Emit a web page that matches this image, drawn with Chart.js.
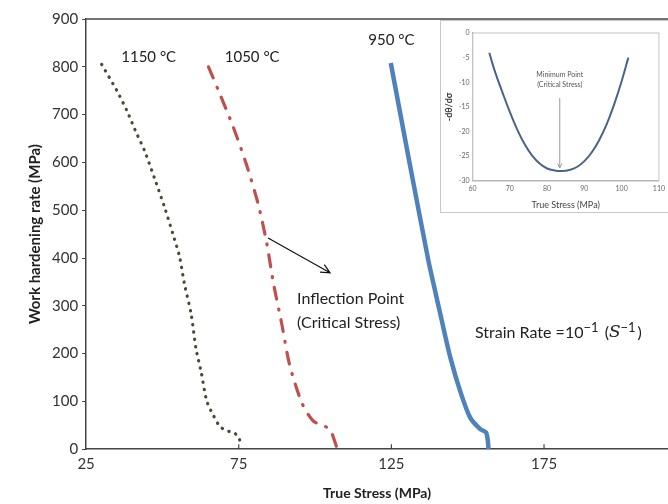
<!DOCTYPE html>
<html>
<head>
<meta charset="utf-8">
<script src="https://cdn.jsdelivr.net/npm/chart.js@4.4.1/dist/chart.umd.min.js"></script>
<style>
  html, body { margin: 0; padding: 0; background: #fff; }
  #wrap { position: relative; width: 668px; height: 504px; overflow: hidden; }
  #main { position: absolute; left: 0; top: 0; }
  #insetBox { position: absolute; left: 440px; top: 20px; width: 240px; height: 191px; border: 1px solid #c8c8c8; background: #fff; }
  #inset { position: absolute; left: 0; top: 0; }
</style>
</head>
<body>
<div id="wrap">
  <canvas id="main" width="668" height="504" style="width:668px;height:504px"></canvas>
  <div id="insetBox"><canvas id="inset" width="228" height="190" style="width:228px;height:190px"></canvas></div>
</div>
<script>
// work hardening curves
const stress1150 = [30.1, 35.0, 38.3, 41.1, 44.1, 47.4, 50.6, 53.4, 55.6, 57.2, 59.4, 61.0, 62.7, 64.5, 66.5, 68.9, 71.4, 73.4, 75.0, 75.8];
const rate1150   = [805, 751, 709, 667, 625, 567, 508, 451, 403, 346, 283, 210, 161, 101, 73, 47, 38, 35, 24, 8];

const stress1050 = [65.1, 68.3, 73.2, 77.6, 81.4, 84.2, 86.4, 89.1, 91.6, 95.6, 99.4, 104.7, 107.3];
const rate1050   = [800, 751, 674, 594, 512, 430, 346, 262, 178, 98, 59, 42, 0];

const stress950 = [124.8, 130.8, 137.1, 138.8, 141.5, 144.3, 147.5, 150.8, 154.1, 156.0, 156.6, 156.8];
const rate950   = [808, 604, 395, 346, 269, 192, 122, 66, 42, 35, 17, 0];

const xTicks = [25, 75, 125, 175];
const yTicks = [0, 100, 200, 300, 400, 500, 600, 700, 800, 900];

// inset: -dθ/dσ vs true stress
const insetStress = [64.5, 66, 68, 70, 72, 74, 76, 78, 80, 82, 84, 86, 88, 90, 92, 94, 96, 98, 100, 101.8];
const insetSlope  = [-4, -7.8, -12, -16, -19.6, -22.6, -24.9, -26.5, -27.5, -27.9, -28, -27.8, -27.2, -26, -24.2, -21.7, -18.5, -14.5, -9.8, -5];
const insetXTicks = [60, 70, 80, 90, 100, 110];
const insetYTicks = [0, -5, -10, -15, -20, -25, -30];

const pts = (xs, ys) => xs.map((x, i) => ({ x: x, y: ys[i] }));
const FONT = 'Lato, "Open Sans", sans-serif';

function arrow(ctx, x1, y1, x2, y2, head, color, width) {
  const a = Math.atan2(y2 - y1, x2 - x1);
  ctx.save();
  ctx.strokeStyle = color;
  ctx.lineWidth = width;
  ctx.beginPath();
  ctx.moveTo(x1, y1);
  ctx.lineTo(x2, y2);
  ctx.moveTo(x2 - head * Math.cos(a - 0.45), y2 - head * Math.sin(a - 0.45));
  ctx.lineTo(x2, y2);
  ctx.lineTo(x2 - head * Math.cos(a + 0.45), y2 - head * Math.sin(a + 0.45));
  ctx.stroke();
  ctx.restore();
}

const mainNotes = {
  id: 'mainNotes',
  afterDraw(chart) {
    const ctx = chart.ctx, xs = chart.scales.x, ys = chart.scales.y, ca = chart.chartArea;
    ctx.save();
    // top frame line
    ctx.strokeStyle = '#444';
    ctx.lineWidth = 1.5;
    ctx.beginPath();
    ctx.moveTo(ca.left, ca.top);
    ctx.lineTo(ca.right, ca.top);
    ctx.stroke();
    // inner tick marks on x axis
    ctx.lineWidth = 1.2;
    xTicks.slice(1).forEach(v => {
      const px = xs.getPixelForValue(v);
      ctx.beginPath();
      ctx.moveTo(px, ca.bottom);
      ctx.lineTo(px, ca.bottom - 5);
      ctx.stroke();
    });
    ctx.fillStyle = '#222';
    ctx.textBaseline = 'middle';
    ctx.font = '15px ' + FONT;
    ctx.textAlign = 'center';
    ctx.fillText('1150 °C', xs.getPixelForValue(45.5), ys.getPixelForValue(820));
    ctx.fillText('1050 °C', xs.getPixelForValue(79.4), ys.getPixelForValue(820));
    ctx.fillText('950 °C', xs.getPixelForValue(125), ys.getPixelForValue(855));
    ctx.textAlign = 'left';
    ctx.font = '16px ' + FONT;
    ctx.fillText('Inflection Point', xs.getPixelForValue(94.1), ys.getPixelForValue(315));
    ctx.fillText('(Critical Stress)', xs.getPixelForValue(94.1), ys.getPixelForValue(265));
    // strain rate with superscripts
    let px = xs.getPixelForValue(152.4);
    const py = ys.getPixelForValue(244);
    const parts = [
      ['Strain Rate =10', '16px ' + FONT, 0],
      ['\u22121', '13px ' + FONT, -5],
      [' (', '16px ' + FONT, 0],
      ['S', 'italic 17px "DejaVu Serif", serif', 0],
      ['\u22121', '13px ' + FONT, -5],
      [')', '16px ' + FONT, 0]
    ];
    parts.forEach(p => {
      ctx.font = p[1];
      ctx.fillText(p[0], px, py + p[2]);
      px += ctx.measureText(p[0]).width + (p[0] === '\u22121' ? 2 : 0);
    });
    arrow(ctx, xs.getPixelForValue(84.6), ys.getPixelForValue(442), xs.getPixelForValue(104.9), ys.getPixelForValue(369), 10, '#111', 1.2);
    ctx.restore();
  }
};

new Chart('main', {
  type: 'scatter',
  data: {
    datasets: [
      { data: pts(stress1150, rate1150), showLine: true, borderColor: '#4a4a36', borderWidth: 3.2,
        borderDash: [0.3, 7], borderCapStyle: 'round', pointRadius: 0, tension: 0.25 },
      { data: pts(stress1050, rate1050), showLine: true, borderColor: '#c0504d', borderWidth: 3.2,
        borderDash: [12, 10, 1, 10], borderCapStyle: 'round', pointRadius: 0, tension: 0.25 },
      { data: pts(stress950, rate950), showLine: true, borderColor: '#4f81bd', borderWidth: 4.5,
        pointRadius: 0, tension: 0.25 }
    ]
  },
  options: {
    responsive: false,
    animation: false,
    layout: { padding: { left: 26, top: 19, right: 0, bottom: 2 } },
    plugins: { legend: { display: false }, tooltip: { enabled: false } },
    scales: {
      x: {
        type: 'linear', min: 25, max: 215.6,
        afterBuildTicks: s => { s.ticks = xTicks.map(v => ({ value: v })); },
        grid: { display: false, drawTicks: false },
        border: { color: '#444', width: 1.5 },
        ticks: { font: { family: FONT, size: 15 }, color: '#333', padding: 6, maxRotation: 0 },
        title: { display: true, text: 'True Stress (MPa)', color: '#222',
                 font: { family: FONT, size: 14, weight: 'bold' }, padding: { top: 6, bottom: 0 } }
      },
      y: {
        min: 0, max: 900,
        afterBuildTicks: s => { s.ticks = yTicks.map(v => ({ value: v })); },
        grid: { drawOnChartArea: false, tickLength: 4, color: '#444' },
        border: { color: '#444', width: 1.5 },
        ticks: { font: { family: FONT, size: 15 }, color: '#333', padding: 4 },
        title: { display: true, text: 'Work hardening rate (MPa)', color: '#222',
                 font: { family: FONT, size: 15, weight: 'bold' }, padding: { top: 0, bottom: 4 } }
      }
    }
  },
  plugins: [mainNotes]
});

const insetNotes = {
  id: 'insetNotes',
  beforeDatasetsDraw(chart) {
    const ctx = chart.ctx, ca = chart.chartArea;
    ctx.save();
    ctx.strokeStyle = '#c4c4c4';
    ctx.lineWidth = 1;
    ctx.strokeRect(ca.left, ca.top, ca.right - ca.left, ca.bottom - ca.top);
    ctx.restore();
  },
  afterDraw(chart) {
    const ctx = chart.ctx, xs = chart.scales.x, ys = chart.scales.y;
    ctx.save();
    ctx.fillStyle = '#555';
    ctx.font = '7px ' + FONT;
    ctx.textAlign = 'center';
    ctx.textBaseline = 'middle';
    ctx.fillText('Minimum Point', xs.getPixelForValue(83.4), ys.getPixelForValue(-8.5));
    ctx.fillText('(Critical Stress)', xs.getPixelForValue(83.4), ys.getPixelForValue(-10.5));
    const ax = xs.getPixelForValue(83.4);
    arrow(ctx, ax, ys.getPixelForValue(-13.2), ax, ys.getPixelForValue(-27.4), 5, '#9a9a9a', 1);
    ctx.restore();
  }
};

new Chart('inset', {
  type: 'scatter',
  data: {
    datasets: [
      { data: pts(insetStress, insetSlope), showLine: true, borderColor: '#4b6384', borderWidth: 2,
        pointRadius: 0, tension: 0.4 }
    ]
  },
  options: {
    responsive: false,
    animation: false,
    layout: { padding: { left: 3, top: 12, right: 10, bottom: 1 } },
    plugins: { legend: { display: false }, tooltip: { enabled: false } },
    scales: {
      x: {
        type: 'linear', min: 60, max: 110,
        afterBuildTicks: s => { s.ticks = insetXTicks.map(v => ({ value: v })); },
        grid: { display: false, drawTicks: false },
        border: { color: '#999', width: 1.2 },
        ticks: { font: { family: FONT, size: 7 }, color: '#666', padding: 4, maxRotation: 0 },
        title: { display: true, text: 'True Stress (MPa)', color: '#444',
                 font: { family: FONT, size: 9 }, padding: { top: 2, bottom: 0 } }
      },
      y: {
        min: -30, max: 0,
        afterBuildTicks: s => { s.ticks = insetYTicks.map(v => ({ value: v })); },
        grid: { display: false, drawTicks: false },
        border: { color: '#999', width: 1.2 },
        ticks: { font: { family: FONT, size: 7 }, color: '#666', padding: 3 },
        title: { display: true, text: '-dθ/dσ', color: '#333',
                 font: { family: FONT, size: 9, weight: 'bold' }, padding: { top: 0, bottom: 1 } }
      }
    }
  },
  plugins: [insetNotes]
});
</script>
</body>
</html>
